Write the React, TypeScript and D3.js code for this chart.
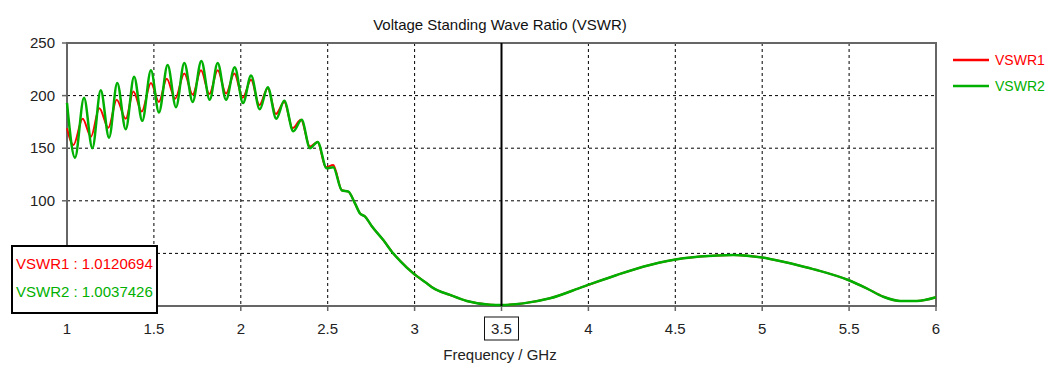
import React from "react";
import * as d3 from "d3";

// ---- data ----
const oscFreqGreen = [1.0, 1.046, 1.098, 1.146, 1.194, 1.242, 1.289, 1.338, 1.386, 1.433, 1.483, 1.529, 1.579, 1.627, 1.675, 1.723, 1.773, 1.821, 1.867, 1.915, 1.965, 2.013, 2.059, 2.109, 2.155, 2.204, 2.25, 2.302, 2.35, 2.398, 2.442, 2.494, 2.532];
const oscValsGreen = [193, 141, 198, 150, 205, 160, 212, 168, 218, 176, 224, 184, 229, 189, 231, 194, 233, 196, 231, 196, 227, 193, 219, 187, 208, 178, 195, 166, 177, 150, 156, 131, 132];

const oscFreqRed = [1.0, 1.037, 1.09, 1.138, 1.186, 1.238, 1.286, 1.338, 1.382, 1.43, 1.483, 1.529, 1.574, 1.622, 1.675, 1.723, 1.771, 1.819, 1.867, 1.915, 1.963, 2.011, 2.059, 2.107, 2.155, 2.202, 2.25, 2.298, 2.346, 2.398, 2.442, 2.489, 2.532];
const oscValsRed = [169, 153, 178, 161, 188, 169.5, 196, 178, 204, 185, 212, 194, 216, 197, 221, 201, 224, 201.5, 224, 202, 221, 198, 215, 191, 207, 182.5, 194, 169, 177, 151.5, 156, 132, 134];

const tailFreq = [2.581, 2.619, 2.657, 2.686, 2.715, 2.753, 2.82, 2.877, 2.916, 2.993, 3.07, 3.108, 3.204, 3.3, 3.434, 3.5, 3.625, 3.779, 3.971, 4.163, 4.354, 4.546, 4.642, 4.834, 5.0, 5.121, 5.217, 5.313, 5.495, 5.601, 5.697, 5.793, 5.889, 6.0];
const tailVals = [110, 108.7, 97.5, 88, 85, 76, 62.7, 50, 43, 31, 21.6, 17, 10.5, 4.8, 1.3, 1.0, 2.5, 7.3, 18.4, 29.5, 39, 45.3, 47, 48.5, 46, 42, 38.3, 34.2, 24.7, 16.8, 8.8, 4.8, 4.8, 8.3];

const xTicks = [1, 1.5, 2, 2.5, 3, 3.5, 4, 4.5, 5, 5.5, 6];
const yTicks = [0, 50, 100, 150, 200, 250];
const yTickLabels = ["", "", "100", "150", "200", "250"]; // 0 and 50 are hidden behind the readout box
const markerFreq = 3.5;
const seriesNames = ["VSWR1", "VSWR2"];
const markerValues = ["1.0120694", "1.0037426"];
const seriesColors = ["#ff0000", "#00b000"];

const W = 1046;
const H = 365;
const M = { left: 67, right: 936, top: 43, bottom: 306 };
const FONT = "'Liberation Sans', Arial, sans-serif";
const FS = 15;

export default function App() {
  const x = d3.scaleLinear().domain([1, 6]).range([M.left, M.right]);
  const y = d3.scaleLinear().domain([0, 250]).range([M.bottom, M.top]);
  const line = d3
    .line<[number, number]>()
    .x((d) => x(d[0]))
    .y((d) => y(d[1]))
    .curve(d3.curveMonotoneX);

  const red: [number, number][] = [
    ...oscFreqRed.map((f, i) => [f, oscValsRed[i]] as [number, number]),
    ...tailFreq.map((f, i) => [f, tailVals[i]] as [number, number]),
  ];
  const green: [number, number][] = [
    ...oscFreqGreen.map((f, i) => [f, oscValsGreen[i]] as [number, number]),
    ...tailFreq.map((f, i) => [f, tailVals[i]] as [number, number]),
  ];

  return (
    <div style={{ position: "absolute", left: 0, top: 0 }}>
      <svg width={W} height={H} style={{ display: "block", background: "#fff" }}>
        <text x={500} y={30} textAnchor="middle" fontFamily={FONT} fontSize={FS} fill="#111">
          Voltage Standing Wave Ratio (VSWR)
        </text>
        {/* grid */}
        {xTicks.slice(1, -1).map((t) => (
          <line key={"gx" + t} x1={x(t)} x2={x(t)} y1={M.top} y2={M.bottom} stroke="#000" strokeWidth={1} strokeDasharray="3,3" />
        ))}
        {yTicks.slice(1, -1).map((t) => (
          <line key={"gy" + t} x1={M.left} x2={M.right} y1={y(t)} y2={y(t)} stroke="#000" strokeWidth={1} strokeDasharray="3,3" />
        ))}
        {/* frame */}
        <rect x={M.left} y={M.top} width={M.right - M.left} height={M.bottom - M.top} fill="none" stroke="#666" strokeWidth={2} />
        {/* ticks */}
        {yTicks.map((t, i) => (
          <g key={"yt" + t}>
            <line x1={M.left - 5} x2={M.left} y1={y(t)} y2={y(t)} stroke="#666" strokeWidth={1.5} />
            {yTickLabels[i] && (
              <text x={55} y={y(t) + 5} textAnchor="end" fontFamily={FONT} fontSize={FS} fill="#222">
                {yTickLabels[i]}
              </text>
            )}
          </g>
        ))}
        {xTicks.map((t) => (
          <g key={"xt" + t}>
            <line x1={x(t)} x2={x(t)} y1={M.bottom} y2={M.bottom + 5} stroke="#666" strokeWidth={1.5} />
            <text x={x(t)} y={334} textAnchor="middle" fontFamily={FONT} fontSize={FS} fill="#222">
              {t}
            </text>
          </g>
        ))}
        <rect x={x(markerFreq) - 17} y={317} width={34} height={23} fill="none" stroke="#111" strokeWidth={1} />
        <text x={500} y={360} textAnchor="middle" fontFamily={FONT} fontSize={FS} fill="#222">
          Frequency / GHz
        </text>
        {/* curves */}
        <path d={line(red) || ""} fill="none" stroke={seriesColors[0]} strokeWidth={2} />
        <path d={line(green) || ""} fill="none" stroke={seriesColors[1]} strokeWidth={2.5} />
        {/* marker */}
        <line x1={x(markerFreq)} x2={x(markerFreq)} y1={M.top} y2={M.bottom} stroke="#000" strokeWidth={2} />
        {/* legend */}
        {seriesNames.map((n, i) => (
          <g key={n}>
            <line x1={953} x2={989} y1={60 + i * 26} y2={60 + i * 26} stroke={seriesColors[i]} strokeWidth={2.5} />
            <text x={995} y={65 + i * 26} fontFamily={FONT} fontSize={14} fill={seriesColors[i]}>
              {n}
            </text>
          </g>
        ))}
        {/* marker readout */}
        <rect x={12} y={246} width={145} height={67} fill="#fff" stroke="#000" strokeWidth={2} />
        {seriesNames.map((n, i) => (
          <text key={"r" + n} x={16} y={269 + i * 28} fontFamily={FONT} fontSize={FS} fill={seriesColors[i]}>
            {n + " : " + markerValues[i]}
          </text>
        ))}
      </svg>
    </div>
  );
}
